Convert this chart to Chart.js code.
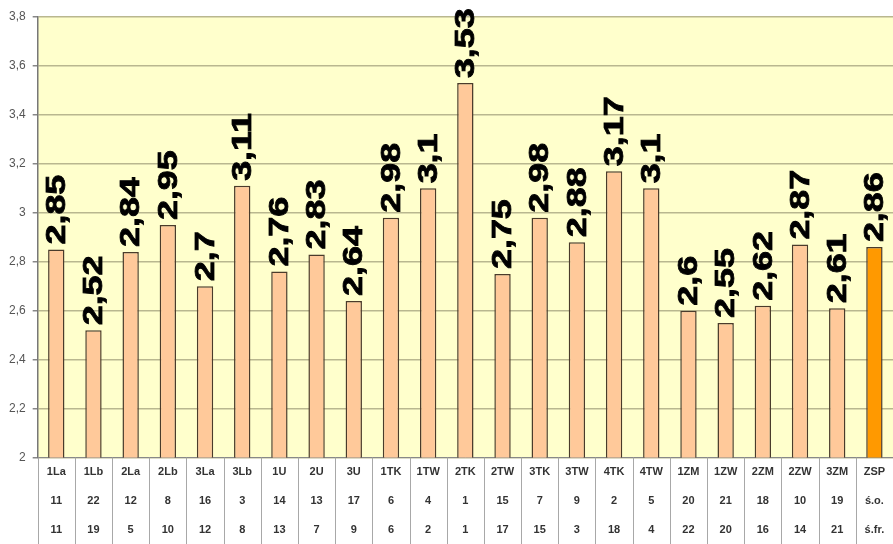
<!DOCTYPE html>
<html>
<head>
<meta charset="utf-8">
<script src="https://cdn.jsdelivr.net/npm/chart.js@4.4.1/dist/chart.umd.min.js"></script>
<style>
  html, body { margin: 0; padding: 0; background: #fff; }
  #wrap { width: 893px; height: 544px; }
</style>
</head>
<body>
<div id="wrap"><canvas id="wykres"></canvas></div>
<script>
// Dane wykresu
const klasy = ['1La', '1Lb', '2La', '2Lb', '3La', '3Lb', '1U', '2U', '3U', '1TK', '1TW', '2TK', '2TW', '3TK', '3TW', '4TK', '4TW', '1ZM', '1ZW', '2ZM', '2ZW', '3ZM', 'ZSP'];
const miejsce1 = ['11', '22', '12', '8', '16', '3', '14', '13', '17', '6', '4', '1', '15', '7', '9', '2', '5', '20', '21', '18', '10', '19', 'ś.o.'];
const miejsce2 = ['11', '19', '5', '10', '12', '8', '13', '7', '9', '6', '2', '1', '17', '15', '3', '18', '4', '22', '20', '16', '14', '21', 'ś.fr.'];
const srednie = [2.85, 2.52, 2.84, 2.95, 2.7, 3.11, 2.76, 2.83, 2.64, 2.98, 3.1, 3.53, 2.75, 2.98, 2.88, 3.17, 3.1, 2.6, 2.55, 2.62, 2.87, 2.61, 2.86];

const kolorSlupka = '#FFC99A';
const kolorZsp = '#FF9900';

function formatPl(v) {
    return String(Math.round(v * 100) / 100).replace('.', ',');
}

// Tło obszaru wykresu
const tloPlugin = {
    id: 'tlo',
    beforeDraw(chart) {
        const { ctx, chartArea } = chart;
        ctx.save();
        ctx.fillStyle = '#FFFFCC';
        ctx.fillRect(chartArea.left, chartArea.top, chartArea.right - chartArea.left, chartArea.bottom - chartArea.top);
        ctx.restore();
    }
};

// Pionowe linie tabeli pod osią X
const tabelaPlugin = {
    id: 'tabela',
    afterDraw(chart) {
        const { ctx, chartArea } = chart;
        const x = chart.scales.x;
        const krok = x.getPixelForValue(1) - x.getPixelForValue(0);
        ctx.save();
        ctx.strokeStyle = '#a8a8a8';
        ctx.lineWidth = 1;
        for (let i = 0; i <= klasy.length; i++) {
            const px = Math.round(x.getPixelForValue(0) - krok / 2 + i * krok) + 0.5;
            ctx.beginPath();
            ctx.moveTo(px, chartArea.bottom);
            ctx.lineTo(px, chart.height);
            ctx.stroke();
        }
        ctx.restore();
    }
};

// Etykiety wartości obrócone o 90 stopni
const etykietyPlugin = {
    id: 'etykiety',
    afterDatasetsDraw(chart) {
        const { ctx } = chart;
        const meta = chart.getDatasetMeta(0);
        ctx.save();
        ctx.fillStyle = '#000';
        ctx.strokeStyle = '#000';
        ctx.lineWidth = 0.8;
        ctx.font = 'bold 28px Arial, "Liberation Sans", sans-serif';
        ctx.textAlign = 'left';
        ctx.textBaseline = 'middle';
        meta.data.forEach(function (bar, i) {
            const tekst = formatPl(srednie[i]);
            ctx.save();
            ctx.translate(bar.x + 1, bar.y - 5);
            ctx.rotate(-Math.PI / 2);
            ctx.scale(1.28, 1);
            ctx.fillText(tekst, 0, 0);
            ctx.strokeText(tekst, 0, 0);
            ctx.restore();
        });
        ctx.restore();
    }
};

const etykietyX = klasy.map(function (k, i) {
    return [k, miejsce1[i], miejsce2[i]];
});

const ctx = document.getElementById('wykres').getContext('2d');
new Chart(ctx, {
    type: 'bar',
    data: {
        labels: etykietyX,
        datasets: [{
            data: srednie,
            backgroundColor: srednie.map(function (v, i) { return i === srednie.length - 1 ? kolorZsp : kolorSlupka; }),
            borderColor: '#4a3b2b',
            borderWidth: 1.5,
            borderSkipped: 'bottom',
            barPercentage: 0.44,
            categoryPercentage: 1
        }]
    },
    options: {
        responsive: true,
        maintainAspectRatio: false,
        animation: false,
        layout: { padding: { top: 17, left: 2, right: 0, bottom: 0 } },
        plugins: {
            legend: { display: false },
            tooltip: { enabled: false }
        },
        scales: {
            x: {
                grid: { display: false, drawTicks: false },
                border: { display: true, color: '#888', width: 1 },
                ticks: {
                    color: '#333',
                    padding: 0,
                    maxRotation: 0,
                    autoSkip: false,
                    font: { family: 'Arial, "Liberation Sans", sans-serif', size: 11, weight: 'bold', lineHeight: 2.62 }
                }
            },
            y: {
                min: 2,
                max: 3.8,
                ticks: {
                    stepSize: 0.2,
                    color: '#555',
                    padding: 7,
                    font: { family: 'Arial, "Liberation Sans", sans-serif', size: 12 },
                    callback: function (v) { return formatPl(v); }
                },
                grid: { color: '#b9b78f', lineWidth: 1.5, tickLength: 5, tickColor: '#888' },
                border: { display: true, color: '#777', width: 1.5 }
            }
        }
    },
    plugins: [tloPlugin, tabelaPlugin, etykietyPlugin]
});
</script>
</body>
</html>
